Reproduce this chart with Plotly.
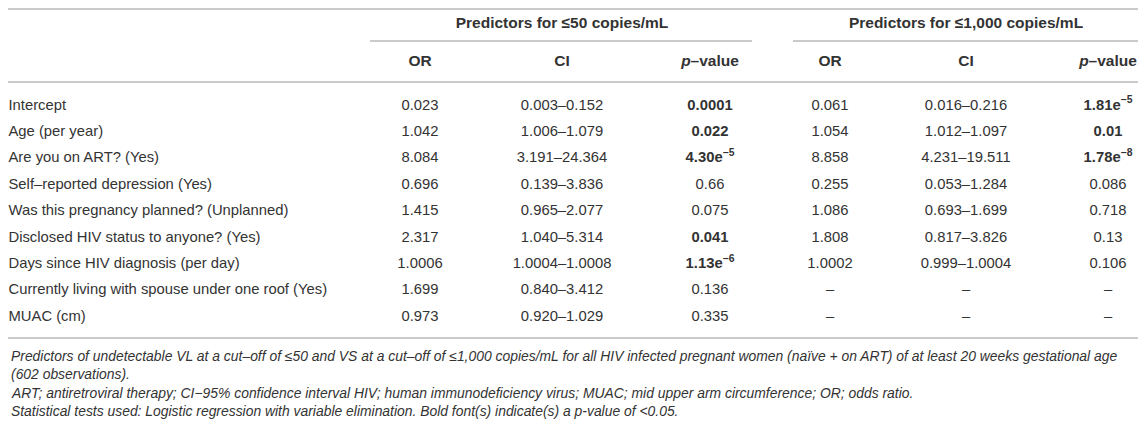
"""Logistic regression predictors table (≤50 and ≤1,000 copies/mL), drawn as a Plotly figure."""
import plotly.graph_objects as go

W, H = 1146, 427
PAGE_PAD = 8          # default body margin of the html page
FONT = "Liberation Sans, Arial, sans-serif"
INK = "#333333"
RULE = "#b8b8b8"

groups = ["Predictors for ≤50 copies/mL", "Predictors for ≤1,000 copies/mL"]
col_heads = ["OR", "CI", "<i>p</i>–value", "OR", "CI", "<i>p</i>–value"]

labels = [
    "Intercept",
    "Age (per year)",
    "Are you on ART? (Yes)",
    "Self–reported depression (Yes)",
    "Was this pregnancy planned? (Unplanned)",
    "Disclosed HIV status to anyone? (Yes)",
    "Days since HIV diagnosis (per day)",
    "Currently living with spouse under one roof (Yes)",
    "MUAC (cm)",
]
or_50 = ["0.023", "1.042", "8.084", "0.696", "1.415", "2.317", "1.0006", "1.699", "0.973"]
ci_50 = ["0.003–0.152", "1.006–1.079", "3.191–24.364", "0.139–3.836", "0.965–2.077",
         "1.040–5.314", "1.0004–1.0008", "0.840–3.412", "0.920–1.029"]
p_50 = ["0.0001", "0.022", "4.30e<sup>−5</sup>", "0.66", "0.075", "0.041",
        "1.13e<sup>−6</sup>", "0.136", "0.335"]
p_50_sig = [True, True, True, False, False, True, True, False, False]
or_1000 = ["0.061", "1.054", "8.858", "0.255", "1.086", "1.808", "1.0002", "–", "–"]
ci_1000 = ["0.016–0.216", "1.012–1.097", "4.231–19.511", "0.053–1.284", "0.693–1.699",
           "0.817–3.826", "0.999–1.0004", "–", "–"]
p_1000 = ["1.81e<sup>−5</sup>", "0.01", "1.78e<sup>−8</sup>", "0.086", "0.718", "0.13",
          "0.106", "–", "–"]
p_1000_sig = [True, True, True, False, False, False, False, False, False]

footnotes = [
    "Predictors of undetectable VL at a cut–off of ≤50 and VS at a cut–off of ≤1,000 copies/mL "
    "for all HIV infected pregnant women (naïve + on ART) of at least 20 weeks gestational age",
    "(602 observations).",
    "ART; antiretroviral therapy; CI−95% confidence interval HIV; human immunodeficiency virus; "
    "MUAC; mid upper arm circumference; OR; odds ratio.",
    "Statistical tests used: Logistic regression with variable elimination. "
    "Bold font(s) indicate(s) a p-value of <0.05.",
]

# the page keeps an 8px body margin all round, so the figure covers
# window pixels 8..1138 x 8..419; positions below are window pixels
X0, X1 = PAGE_PAD, W - PAGE_PAD
Y0, Y1 = PAGE_PAD, H - PAGE_PAD
col_x = [420, 562, 710, 830, 966, 1108]
group_x = [562, 966]
group_span = [(370, 752), (793, X1)]
y_group, y_head, y_underline = 24, 62, 41
row_y = [106 + 26.4 * i for i in range(len(labels))]
rules_full = [Y0 + 1, 82, 338]
foot_y = [356, 374, 393, 411]


def bold(vals, flags):
    return [f"<b>{v}</b>" if f else v for v, f in zip(vals, flags)]


fig = go.Figure()

body_font = dict(family=FONT, size=14.8, color=INK)
head_font = dict(family=FONT, size=15.5, color=INK)
text_trace = dict(mode="text", hoverinfo="skip", cliponaxis=False)

fig.add_trace(go.Scatter(
    x=[X0 + 0.5] * len(labels), y=row_y, text=labels,
    textposition="middle right", textfont=body_font, **text_trace))

columns = [or_50, ci_50, bold(p_50, p_50_sig), or_1000, ci_1000, bold(p_1000, p_1000_sig)]
for cx, vals in zip(col_x, columns):
    fig.add_trace(go.Scatter(
        x=[cx] * len(vals), y=row_y, text=vals,
        textposition="middle center", textfont=body_font, **text_trace))

fig.add_trace(go.Scatter(
    x=col_x, y=[y_head] * len(col_heads), text=[f"<b>{h}</b>" for h in col_heads],
    textposition="middle center", textfont=head_font, **text_trace))
fig.add_trace(go.Scatter(
    x=group_x, y=[y_group] * 2, text=[f"<b>{g}</b>" for g in groups],
    textposition="middle center", textfont=head_font, **text_trace))

for y in rules_full:
    fig.add_shape(type="line", xref="x", yref="y", x0=X0, x1=X1, y0=y, y1=y,
                  line=dict(color=RULE, width=1.5))
for x0, x1 in group_span:
    fig.add_shape(type="line", xref="x", yref="y", x0=x0, x1=x1,
                  y0=y_underline, y1=y_underline, line=dict(color=RULE, width=1.5))

for y, t in zip(foot_y, footnotes):
    fig.add_annotation(x=X0 + 0.5, y=y, xref="x", yref="y", text=f"<i>{t}</i>",
                       showarrow=False, xanchor="left", yanchor="middle",
                       font=dict(family=FONT, size=13.9, color=INK))

fig.update_xaxes(range=[X0, X1], visible=False, fixedrange=True)
fig.update_yaxes(range=[Y1, Y0], visible=False, fixedrange=True)
fig.update_layout(width=X1 - X0, height=Y1 - Y0,
                  margin=dict(l=0, r=0, t=0, b=0),
                  paper_bgcolor="white", plot_bgcolor="white", showlegend=False)

fig.write_html("out.html")
